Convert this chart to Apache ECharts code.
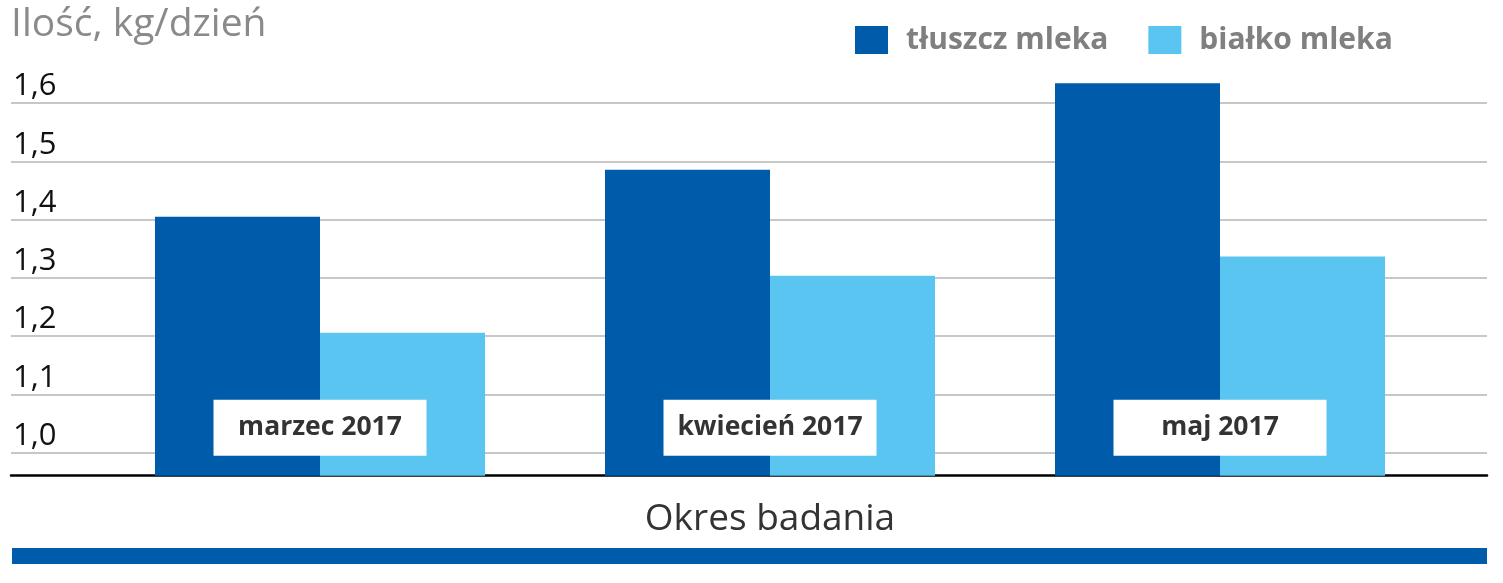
<!DOCTYPE html>
<html>
<head>
<meta charset="utf-8">
<script src="https://cdn.jsdelivr.net/npm/echarts@6/dist/echarts.min.js"></script>
<style>
  html, body { margin: 0; padding: 0; background: #fff; }
  #chart { width: 1503px; height: 583px; }
</style>
</head>
<body>
<div id="chart"></div>
<script>
// okresy badania
let categories = ['marzec 2017', 'kwiecień 2017', 'maj 2017'];
// kg/dzień
let tluszcz = [1.404, 1.485, 1.633];
let bialko = [1.205, 1.303, 1.336];
let seriesNames = ['tłuszcz mleka', 'białko mleka'];

let darkBlue = '#005BAA';
let lightBlue = '#5BC5F2';
let font = '"Open Sans", "DejaVu Sans", sans-serif';

let chart = echarts.init(document.getElementById('chart'));

let options = {
    animation: false,
    color: [darkBlue, lightBlue],
    title: {
        text: 'Ilość, kg/dzień',
        left: 11,
        top: 5,
        padding: 0,
        textStyle: {
            color: '#8a8a8a',
            fontFamily: font,
            fontWeight: 'normal',
            fontSize: 39
        }
    },
    legend: {
        left: 855,
        top: 25,
        padding: 0,
        itemWidth: 33,
        itemHeight: 28,
        itemGap: 40,
        icon: 'rect',
        data: seriesNames,
        textStyle: {
            color: '#808080',
            fontFamily: font,
            fontWeight: 'bold',
            fontSize: 30,
            padding: [0, 0, 0, 13]
        }
    },
    grid: [
        // siatka + etykiety osi Y
        { left: 11, right: 16, top: 103, bottom: 583 - 452.7 },
        // slupki
        { left: 95, right: 58, top: 44.3, bottom: 583 - 475.7 },
        // czarna linia osi
        { left: 11, right: 16, bottom: 583 - 475.7, height: 0 }
    ],
    xAxis: [
        { gridIndex: 0, type: 'category', show: false, data: categories },
        {
            gridIndex: 1,
            type: 'category',
            data: categories,
            z: 10,
            axisLine: { show: false },
            axisTick: { show: false },
            name: 'Okres badania',
            nameLocation: 'middle',
            nameGap: 25,
            nameTextStyle: {
                color: '#333',
                fontFamily: font,
                fontSize: 37
            },
            axisLabel: {
                inside: true,
                margin: 20,
                verticalAlign: 'bottom',
                backgroundColor: '#fff',
                width: 213,
                height: 56,
                lineHeight: 56,
                align: 'center',
                color: '#333',
                fontFamily: font,
                fontWeight: 'bold',
                fontSize: 26.5
            }
        },
        {
            gridIndex: 2,
            type: 'category',
            data: [''],
            axisLine: { show: true, lineStyle: { color: '#000', width: 2.5 } },
            axisTick: { show: false },
            axisLabel: { show: false }
        }
    ],
    yAxis: [
        {
            gridIndex: 0,
            type: 'value',
            min: 1.0,
            max: 1.6,
            interval: 0.1,
            axisLine: { show: false },
            axisTick: { show: false },
            splitLine: { show: true, lineStyle: { color: '#b4b4b4', width: 1.5 } },
            axisLabel: {
                inside: true,
                margin: 2,
                verticalAlign: 'bottom',
                padding: [0, 0, 1, 0],
                color: '#111',
                fontFamily: font,
                fontSize: 31,
                formatter: (v) => v.toFixed(1).replace('.', ',')
            }
        },
        { gridIndex: 1, type: 'value', min: 0.96, max: 1.7, show: false },
        { gridIndex: 2, type: 'value', show: false }
    ],
    series: [
        {
            name: seriesNames[0],
            type: 'bar',
            xAxisIndex: 1,
            yAxisIndex: 1,
            barWidth: 165,
            barGap: '0%',
            data: tluszcz
        },
        {
            name: seriesNames[1],
            type: 'bar',
            xAxisIndex: 1,
            yAxisIndex: 1,
            barWidth: 165,
            barGap: '0%',
            data: bialko
        }
    ],
    graphic: [
        {
            type: 'rect',
            shape: { x: 12, y: 548, width: 1475, height: 16 },
            style: { fill: darkBlue },
            silent: true
        }
    ]
};

chart.setOption(options);
</script>
</body>
</html>
